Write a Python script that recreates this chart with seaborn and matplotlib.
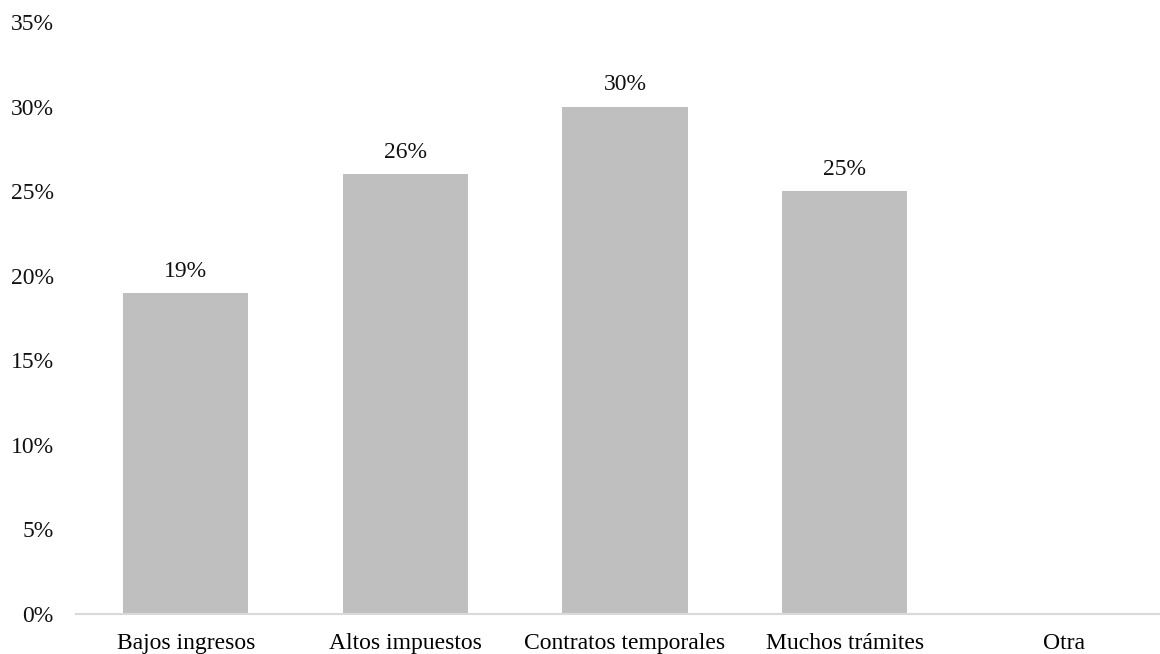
import matplotlib
matplotlib.use('Agg')
import matplotlib.pyplot as plt
import seaborn as sns
import pandas as pd

# Chart data
categorias = ['Bajos ingresos', 'Altos impuestos', 'Contratos temporales', 'Muchos trámites', 'Otra']
valores = [0.19, 0.26, 0.30, 0.25, 0.0]
etiquetas = ['19%', '26%', '30%', '25%', '']
ticks_y = [0.0, 0.05, 0.10, 0.15, 0.20, 0.25, 0.30, 0.35]

df = pd.DataFrame({'categoria': categorias, 'valor': valores})

sns.set_style('white')
plt.rcParams['font.family'] = ['Liberation Serif', 'DejaVu Serif']

fig = plt.figure(figsize=(11.6, 6.54), dpi=100)
ax = fig.add_axes([76 / 1160, 40 / 654, 1098 / 1160, 592 / 654])

sns.barplot(data=df, x='categoria', y='valor', color='#BFBFBF', width=0.57,
            saturation=1, linewidth=0, ax=ax)

# Value labels above bars
ax.bar_label(ax.containers[0], labels=etiquetas, padding=8, fontsize=17, color='#111111')

ax.set_ylim(0, 0.35)
ax.set_xlim(-0.5, 4.5)
ax.set_yticks(ticks_y)
ax.set_yticklabels([f'{int(round(t * 100))}%' for t in ticks_y])
ax.tick_params(axis='y', length=0, pad=16, labelsize=17, labelcolor='#111111')
ax.tick_params(axis='x', length=0, pad=14, labelsize=17, labelcolor='#000000')
ax.set_xlabel('')
ax.set_ylabel('')

for side in ['top', 'right', 'left']:
    ax.spines[side].set_visible(False)
ax.spines['bottom'].set_color('#D9D9D9')
ax.spines['bottom'].set_linewidth(1.5)
ax.spines['bottom'].set_clip_on(False)

plt.savefig('out.png', dpi=100)
